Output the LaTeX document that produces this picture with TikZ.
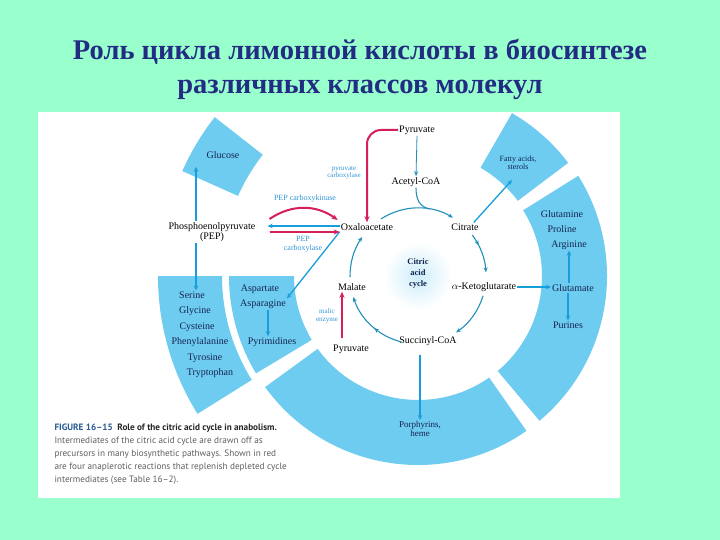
\documentclass[tikz,border=0pt]{standalone}
\usepackage{fontspec}
\setmainfont{Liberation Serif}
\newfontfamily\capfont{PT Sans}
\usetikzlibrary{arrows.meta, positioning, calc, decorations.markings}

\definecolor{mint}{RGB}{153,255,204}
\definecolor{segblue}{RGB}{110,204,240}
\definecolor{titleblue}{RGB}{34,44,130}
\definecolor{pathblue}{RGB}{24,158,218}
\definecolor{cycteal}{RGB}{34,144,186}
\definecolor{anared}{RGB}{214,30,88}
\definecolor{segink}{RGB}{20,35,80}
\definecolor{enzblue}{RGB}{50,150,215}
\definecolor{capgray}{RGB}{95,95,95}
\definecolor{figblue}{RGB}{40,90,150}

\begin{document}
\begin{tikzpicture}[x=1pt, y=1pt,
        % Estilos para textos
        metab/.style={font=\fontsize{10}{10}\selectfont, inner sep=1pt},
        segtext/.style={metab, text=segink},
        enzyme/.style={font=\fontsize{7}{7.5}\selectfont, text=enzblue, align=center, inner sep=0pt},
        % Segmentos del anillo
        seg/.style={fill=segblue},
        % Flechas
        cyc/.style={-{Stealth[length=5pt,width=4pt]}, line width=1.1pt, color=cycteal},
        midarrow/.style={postaction={decorate}, decoration={markings,
                mark=at position #1 with {\arrow{Stealth[length=5pt,width=4pt]}}}},
        flow/.style={-{Stealth[length=5pt,width=4.5pt]}, line width=1.5pt, color=pathblue},
        bigflow/.style={flow, line width=2.6pt},
        redflow/.style={-{Stealth[length=6pt,width=5pt]}, line width=2pt, color=anared}
    ]

    % Fondo
    \fill[mint] (0,0) rectangle (720,-540);
    \useasboundingbox (0,0) rectangle (720,-540);
    \fill[white] (38,-112) rectangle (620,-498);

    % Titulo
    \node[font=\bfseries\fontsize{28.5}{34}\selectfont, text=titleblue, align=center] (title) at (360,-69)
        {Роль цикла лимонной кислоты в биосинтезе\\различных классов молекул};

    % Anillo
    \coordinate (C) at (418,-276);
    \foreach \a/\b/\ri/\ro in {-50/32/124/189, 37/60/125/188, 216/305/124/189,
            180/211/124/189, 180/212/196/260, 142/156/197/258}
        \fill[seg] ($(C)+(\a:\ro)$) arc[start angle=\a, end angle=\b, radius=\ro]
            -- ($(C)+(\b:\ri)$) arc[start angle=\b, end angle=\a, radius=\ri] -- cycle;
    \shade[inner color=segblue!35, outer color=white] (C) circle (34);

    % Intermediarios del ciclo
    \node[metab] (pyrtop) at (417,-130) {Pyruvate};
    \node[metab] (acoa) at (416,-182) {Acetyl-CoA};
    \node[metab] (oaa) at (367,-227) {Oxaloacetate};
    \node[metab] (cit) at (465,-227) {Citrate};
    \node[metab] (akg) at (484,-287) {$\alpha$-Ketoglutarate};
    \node[metab] (succoa) at (428,-341) {Succinyl-CoA};
    \node[metab] (mal) at (352,-287) {Malate};
    \node[metab] (pyrlow) at (351,-349) {Pyruvate};
    \node[metab, align=center, font=\fontsize{10}{8}\selectfont] (pep) at (212,-232) {Phosphoenolpyruvate\\(PEP)};
    \node[font=\bfseries\fontsize{8.5}{11}\selectfont, align=center, text=segink] (cyclelbl) at (418,-273) {Citric\\acid\\cycle};

    % Enzimas
    \node[enzyme] (pcarb) at (344,-173) {pyruvate\\carboxylase};
    \node[enzyme, font=\fontsize{8}{9}\selectfont] (pepck) at (305,-199) {PEP carboxykinase};
    \node[enzyme, font=\fontsize{8}{9.5}\selectfont] (pepc) at (303,-244) {PEP\\carboxylase};
    \node[enzyme] (malic) at (327,-316) {malic\\enzyme};

    % Productos
    \node[segtext] (glc) at (223,-155) {Glucose};
    \node[segtext, align=center, font=\fontsize{8}{8}\selectfont] (fatty) at (518,-163) {Fatty acids,\\sterols};
    \node[segtext] (gln) at (562,-214) {Glutamine};
    \node[segtext] (pro) at (562,-229) {Proline};
    \node[segtext] (arg) at (569,-245) {Arginine};
    \node[segtext] (glu) at (573,-288) {Glutamate};
    \node[segtext] (pur) at (568,-325) {Purines};
    \node[segtext] (asp) at (260,-289) {Aspartate};
    \node[segtext] (asn) at (263,-304) {Asparagine};
    \node[segtext] (pyrim) at (272,-342) {Pyrimidines};
    \node[segtext] (ser) at (192,-295) {Serine};
    \node[segtext] (gly) at (195,-311) {Glycine};
    \node[segtext] (cys) at (197,-327) {Cysteine};
    \node[segtext] (phe) at (200,-342) {Phenylalanine};
    \node[segtext] (tyr) at (205,-358) {Tyrosine};
    \node[segtext] (trp) at (210,-373) {Tryptophan};
    \node[segtext, align=center, font=\fontsize{9}{8}\selectfont] (porph) at (420,-429) {Porphyrins,\\heme};

    % Ciclo
    \coordinate (c1) at ($(C)+(123:68)$);
    \coordinate (c2) at ($(C)+(37:68)$);
    \coordinate (c3) at ($(C)+(-17:68)$);
    \coordinate (c4) at ($(C)+(256:68)$);
    \coordinate (c5) at ($(C)+(181:68)$);
    \coordinate (join) at ($(C)+(80:68)$);
    \draw[cyc] (c1) arc[start angle=123, end angle=59, radius=68];
    \draw[cyc, midarrow=0.3] (c2) arc[start angle=37, end angle=3, radius=68];
    \draw[cyc] (c3) arc[start angle=-17, end angle=-56, radius=68];
    \draw[cyc, midarrow=0.45] (c4) arc[start angle=256, end angle=198, radius=68];
    \draw[cyc] (c5) arc[start angle=181, end angle=145, radius=68];
    \draw[cyc, -] (acoa.south) .. controls ($(acoa.south)+(0,-12)$) and ($(join)+(-10,2)$) .. (join);
    \draw[cyc, line width=0.8pt] (pyrtop.south) -- (acoa.north);

    % Vias biosinteticas
    \draw[flow, line width=1.3pt] ([xshift=-6pt]cit.north east) -- ($(fatty.south)+(-6,-9)$);
    \draw[bigflow] (akg.east) -- (akg.east -| glu.west);
    \draw[flow, line width=1.3pt] (glu.north -| arg.south) -- (arg.south);
    \draw[flow, line width=1.3pt] (glu.south -| pur.north) -- (pur.north);
    \draw[bigflow, shorten <=8pt] (succoa.south -| porph.north) -- (porph.north);
    \draw[flow, line width=1.3pt] (oaa.south west) -- (asn.north east);
    \draw[flow, line width=1.3pt] ([xshift=5pt]asn.south) -- ([xshift=-4pt]pyrim.north);
    \draw[flow, shorten >=7pt] ([xshift=-16pt]pep.north) -- ([xshift=-16pt]pep.north |- glc.south);
    \draw[flow] ([xshift=-16pt]pep.south) -- ([xshift=-16pt]pep.south |- ser.north);
    \draw[bigflow, shorten >=11pt] ([yshift=1pt]oaa.west) -- ([yshift=1pt]oaa.west -| pep.east);

    % Reacciones anapleroticas
    \draw[redflow, shorten <=13pt] ([yshift=-5pt]oaa.west -| pep.east) -- ([yshift=-5pt]oaa.west);
    \draw[redflow] ($(oaa.west -| pep.east)+(13,8)$) to[bend left=35] ($(oaa.west)+(-2,7)$);
    \draw[redflow, rounded corners=14pt] (pyrtop.west) -| (oaa.north);
    \draw[redflow, shorten <=5pt] ([xshift=-9pt]pyrlow.north) -- ([xshift=-9pt]pyrlow.north |- mal.south);

    % Leyenda
    \node[font=\capfont\fontsize{9.2}{13}\selectfont, text=capgray, align=left, anchor=north west] (caption) at (51,-420)
        {\textcolor{figblue}{\textbf{FIGURE 16–15}}\enspace\textcolor{black!85}{\textbf{Role of the citric acid cycle in anabolism.}}\\
        Intermediates of the citric acid cycle are drawn off as\\
        precursors in many biosynthetic pathways. Shown in red\\
        are four anaplerotic reactions that replenish depleted cycle\\
        intermediates (see Table 16–2).};

\end{tikzpicture}
\end{document}
